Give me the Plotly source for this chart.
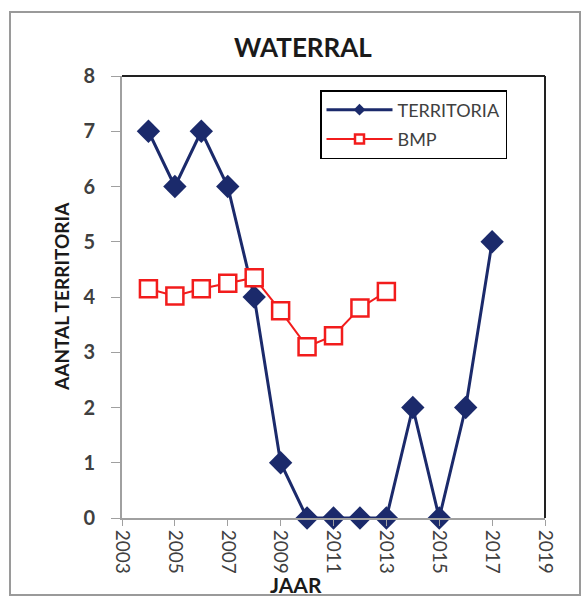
import plotly.graph_objects as go

years_terr = [2004, 2005, 2006, 2007, 2008, 2009, 2010, 2011, 2012, 2013, 2014, 2015, 2016, 2017]
territoria = [7, 6, 7, 6, 4, 1, 0, 0, 0, 0, 2, 0, 2, 5]
years_bmp = [2004, 2005, 2006, 2007, 2008, 2009, 2010, 2011, 2012, 2013]
bmp = [4.15, 4.02, 4.15, 4.25, 4.35, 3.75, 3.1, 3.3, 3.8, 4.1]
x_ticks = [2003, 2005, 2007, 2009, 2011, 2013, 2015, 2017, 2019]
y_ticks = [0, 1, 2, 3, 4, 5, 6, 7, 8]

W, H = 587, 601
L, R, T, B = 122, 42, 76, 83

NAVY = "#1B2A6B"
RED = "#F21C1C"

fig = go.Figure()
fig.add_trace(go.Scatter(
    x=years_terr, y=territoria, name="TERRITORIA", mode="lines+markers",
    showlegend=False,
    line=dict(color=NAVY, width=3),
    marker=dict(symbol="diamond", size=18, color=NAVY),
    cliponaxis=False,
))
fig.add_trace(go.Scatter(
    x=years_bmp, y=bmp, name="BMP", mode="lines+markers",
    showlegend=False,
    line=dict(color=RED, width=2),
    marker=dict(symbol="square", size=17, color="white", line=dict(color=RED, width=2.5)),
    cliponaxis=False,
))
# legend-only entries with the small legend symbols
fig.add_trace(go.Scatter(
    x=[None], y=[None], name="TERRITORIA", mode="lines+markers", legendgroup="a",
    line=dict(color=NAVY, width=3), marker=dict(symbol="diamond", size=9, color=NAVY),
))
fig.add_trace(go.Scatter(
    x=[None], y=[None], name="BMP", mode="lines+markers", legendgroup="b",
    line=dict(color=RED, width=2),
    marker=dict(symbol="square", size=9, color="white", line=dict(color=RED, width=2.5)),
))

font = "Lato, 'Open Sans', 'Liberation Sans', sans-serif"

def px2paper_x(px):
    return (px - L) / (W - L - R)

def px2paper_y(py):
    return (H - B - py) / (H - T - B)

fig.update_layout(
    width=W, height=H,
    margin=dict(l=L, r=R, t=T, b=B),
    paper_bgcolor="white", plot_bgcolor="white",
    font=dict(family=font, color="#404040"),
    showlegend=True,
    legend=dict(
        x=px2paper_x(320), y=px2paper_y(90), xanchor="left", yanchor="top",
        bordercolor="black", borderwidth=1.5, bgcolor="white",
        font=dict(size=18, color="#404040", family=font),
        tracegroupgap=3, itemwidth=66, itemsizing="trace",
    ),
    xaxis=dict(
        range=[2003, 2019], tickvals=x_ticks, ticktext=[str(v) for v in x_ticks],
        tickangle=90, ticks="outside", ticklen=6, tickcolor="#A0A0A0",
        showline=True, linecolor="#A0A0A0", linewidth=2, showgrid=False, zeroline=False,
        tickfont=dict(size=19, color="#404040", family=font),
    ),
    yaxis=dict(
        range=[0, 8], tickvals=y_ticks, ticks="outside", ticklen=9, tickcolor="#A0A0A0",
        showline=True, linecolor="#A0A0A0", linewidth=2, showgrid=False, zeroline=False,
        tickfont=dict(size=20, color="#404040", family=font, weight="bold"),
        ticklabelstandoff=12,
    ),
    shapes=[
        dict(type="line", xref="paper", yref="paper", x0=0, x1=1, y0=1, y1=1,
             line=dict(color="#222222", width=2)),
        dict(type="line", xref="paper", yref="paper", x0=1, x1=1, y0=0, y1=1,
             line=dict(color="#222222", width=2)),
        dict(type="rect", xref="paper", yref="paper",
             x0=px2paper_x(10), x1=px2paper_x(580), y0=px2paper_y(595), y1=px2paper_y(12),
             line=dict(color="#9A9A9A", width=2), fillcolor="rgba(0,0,0,0)", layer="below"),
    ],
    annotations=[
        dict(text="<b>WATERRAL</b>", xref="paper", yref="paper",
             x=px2paper_x(303), y=px2paper_y(47), xanchor="center", yanchor="middle",
             showarrow=False, font=dict(size=26, color="#1A1A1A", family=font)),
        dict(text="<b>AANTAL TERRITORIA</b>", xref="paper", yref="paper",
             x=px2paper_x(61), y=px2paper_y(296), xanchor="center", yanchor="middle",
             showarrow=False, textangle=-90,
             font=dict(size=19, color="#1A1A1A", family=font)),
        dict(text="<b>JAAR</b>", xref="paper", yref="paper",
             x=px2paper_x(296), y=px2paper_y(584), xanchor="center", yanchor="middle",
             showarrow=False, font=dict(size=21, color="#1A1A1A", family=font)),
    ],
)

fig.write_html("out.html", config={"displayModeBar": False},
               post_script="document.body.style.margin='0';document.body.style.overflow='hidden';")
